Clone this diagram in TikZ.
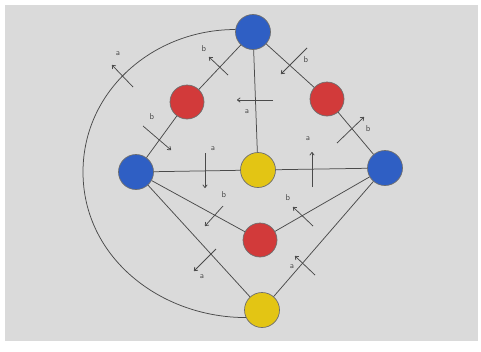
\documentclass[tikz,border=0pt]{standalone}
\usetikzlibrary{arrows.meta}
\definecolor{paper}{HTML}{DADADA}
\definecolor{ink}{HTML}{4A4A4A}
\definecolor{nblue}{HTML}{2F5FC4}
\definecolor{nred}{HTML}{D23A3A}
\definecolor{nyellow}{HTML}{E3C514}
\begin{document}
\begin{tikzpicture}[x=1pt,y=-1pt,
  dot/.style={circle,draw=ink!80,line width=0.7pt,minimum size=35pt,inner sep=0pt},
  bluedot/.style={dot,fill=nblue},
  reddot/.style={dot,fill=nred,minimum size=34pt},
  yellowdot/.style={dot,fill=nyellow},
  edge/.style={draw=ink,line width=0.75pt},
  tick/.style={draw=ink,line width=0.75pt,-{To[length=3.5pt,width=5pt]}},
  lbl/.style={font=\sffamily\fontsize{8.5}{9}\selectfont,text=ink,inner sep=0pt}]
\useasboundingbox (0,0) rectangle (481,351);
\fill[white] (0,0) rectangle (481,351);
\fill[paper] (5,5) rectangle (478,341);
% nodes
\node[bluedot] (T) at (253,32) {};
\node[reddot] (RL) at (187,102) {};
\node[reddot] (RR) at (327,99) {};
\node[bluedot] (BL) at (136,172) {};
\node[yellowdot] (YC) at (258,170) {};
\node[bluedot] (BR) at (385,168) {};
\node[reddot] (RB) at (260,240) {};
\node[yellowdot] (YB) at (262,310) {};
\coordinate (L) at (83,172);
% edges
\path[edge] (T) -- (RL) (RL) -- (BL) (T) -- (RR) (RR) -- (BR)
  (T) -- (YC) (BL) -- (YC) (YC) -- (BR) (BL) -- (RB) (RB) -- (BR)
  (BL) -- (YB) (YB) -- (BR);
\path[edge] (T.172) to[out=180,in=90] (L) to[out=-90,in=180] (YB.205);
% ticks
\draw[tick] (133,87) -- (112,65);   \node[lbl] at (118,54) {a};
\draw[tick] (228,75) -- (209,57);   \node[lbl] at (204,49) {b};
\draw[tick] (307,48) -- (281,74);   \node[lbl] at (306,60) {b};
\draw[tick] (273,100) -- (237,100); \node[lbl] at (247,112) {a};
\draw[tick] (143,126) -- (171,150); \node[lbl] at (152,117) {b};
\draw[tick] (337,143) -- (364,117); \node[lbl] at (368,129) {b};
\draw[tick] (205,153) -- (205,188); \node[lbl] at (213,149) {a};
\draw[tick] (312,187) -- (312,152); \node[lbl] at (308,139) {a};
\draw[tick] (223,206) -- (205,226); \node[lbl] at (224,195) {b};
\draw[tick] (313,226) -- (293,207); \node[lbl] at (288,198) {b};
\draw[tick] (216,249) -- (194,271); \node[lbl] at (202,277) {a};
\draw[tick] (315,275) -- (295,256); \node[lbl] at (292,267) {a};
\end{tikzpicture}
\end{document}
